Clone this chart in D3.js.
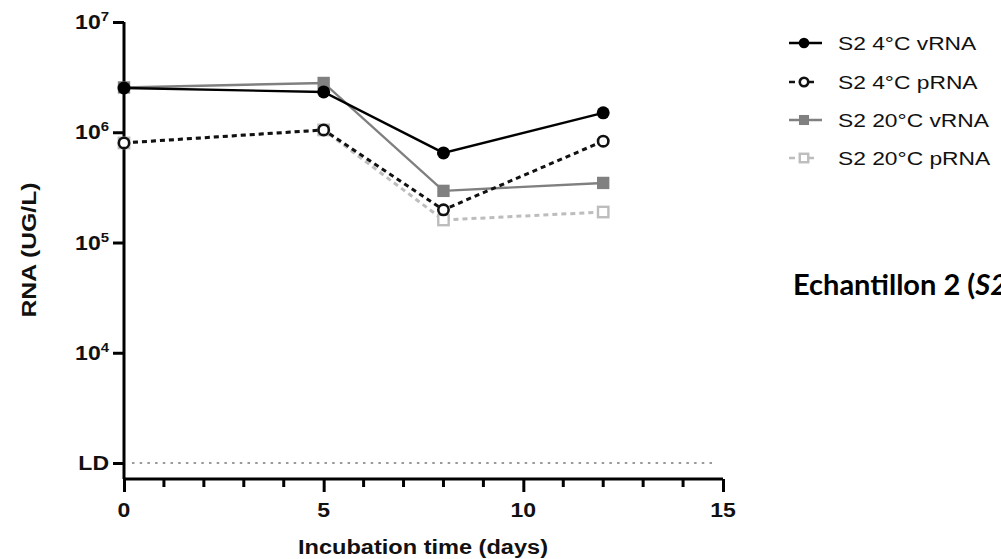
<!DOCTYPE html>
<html>
<head>
<meta charset="utf-8">
<script src="https://cdn.jsdelivr.net/npm/d3@7"></script>
<style>
  body { margin: 0; background: #fff; }
  svg { display: block; }
  text { font-family: "Liberation Sans", Arial, sans-serif; fill: #111; }
</style>
</head>
<body>
<svg id="chart" width="1001" height="559"></svg>
<script>
// Données
const days = [0, 5, 8, 12];
const s2_4C_vRNA = [2.52e6, 2.32e6, 6.5e5, 1.5e6];
const s2_4C_pRNA = [8.0e5, 1.05e6, 1.98e5, 8.3e5];
const s2_20C_vRNA = [2.55e6, 2.8e6, 2.94e5, 3.47e5];
const s2_20C_pRNA = [8.0e5, 1.05e6, 1.6e5, 1.89e5];
const seriesNames = ["S2 4°C vRNA", "S2 4°C pRNA", "S2 20°C vRNA", "S2 20°C pRNA"];
const yTickValues = [1e3, 1e4, 1e5, 1e6, 1e7];
const yTickLabels = ["LD", "4", "5", "6", "7"];
const xTickValues = [0, 5, 10, 15];
const ldValue = 1e3;

const svg = d3.select("#chart");

const x = d3.scaleLinear().domain([0, 15]).range([124, 723]);
const y = d3.scaleLog().domain([Math.pow(10, 2.855), 1e7]).range([479, 22]);

// styles des séries (ordre du dessin : du fond vers le haut)
const series = [
  { name: seriesNames[3], values: s2_20C_pRNA, color: "#bdbdbd", dash: "5,4", marker: "square", open: true },
  { name: seriesNames[2], values: s2_20C_vRNA, color: "#808080", dash: null, marker: "square", open: false },
  { name: seriesNames[1], values: s2_4C_pRNA, color: "#111", dash: "5,4", marker: "circle", open: true },
  { name: seriesNames[0], values: s2_4C_vRNA, color: "#000", dash: null, marker: "circle", open: false }
];

// ligne LD pointillée
svg.append("line")
  .attr("x1", x(0.2)).attr("x2", x(14.85))
  .attr("y1", y(ldValue)).attr("y2", y(ldValue))
  .attr("stroke", "#9a9a9a")
  .attr("stroke-width", 2)
  .attr("stroke-dasharray", "2.5,5.2");

// axe Y
const yAxis = svg.append("g")
  .attr("transform", `translate(${x(0)},0)`)
  .call(d3.axisLeft(y).tickValues(yTickValues).tickSize(11).tickFormat(""));
yAxis.select(".domain").attr("d", `M0,${y.range()[1]}V${y.range()[0]}`);
yAxis.selectAll("path, line").attr("stroke", "#000").attr("stroke-width", 3);

yTickValues.forEach((v, i) => {
  const t = svg.append("text")
    .attr("text-anchor", "end")
    .attr("font-weight", "bold")
    .attr("font-size", 20)
    .attr("transform", `translate(${x(0) - 15},${y(v) + 7}) scale(1.15,1)`);
  if (yTickLabels[i] === "LD") {
    t.text("LD");
  } else {
    t.append("tspan").text("10");
    t.append("tspan").attr("font-size", 13).attr("dy", -8).text(yTickLabels[i]);
  }
});

// axe X
const xAxis = svg.append("g")
  .attr("transform", `translate(0,${y.range()[0]})`)
  .call(d3.axisBottom(x).tickValues(xTickValues).tickSize(13).tickFormat(""));
xAxis.select(".domain").attr("d", `M${x(0)},0H${x(15)}`);
xAxis.selectAll("path, line").attr("stroke", "#000").attr("stroke-width", 3);

xAxis.selectAll(".minor")
  .data(d3.range(1, 15).filter(d => d % 5 !== 0))
  .join("line")
  .attr("x1", d => x(d)).attr("x2", d => x(d))
  .attr("y1", 0).attr("y2", 8)
  .attr("stroke", "#000").attr("stroke-width", 3);

svg.selectAll(".xlab")
  .data(xTickValues)
  .join("text")
  .attr("text-anchor", "middle")
  .attr("font-weight", "bold")
  .attr("font-size", 20)
  .attr("transform", d => `translate(${x(d)},${517}) scale(1.15,1)`)
  .text(d => d);

// titres des axes
svg.append("text")
  .attr("x", 423).attr("y", 554)
  .attr("text-anchor", "middle")
  .attr("font-weight", "bold")
  .attr("font-size", 20)
  .attr("textLength", 250)
  .attr("lengthAdjust", "spacingAndGlyphs")
  .text("Incubation time (days)");

svg.append("text")
  .attr("transform", "translate(36,250) rotate(-90)")
  .attr("text-anchor", "middle")
  .attr("font-weight", "bold")
  .attr("font-size", 20)
  .attr("textLength", 135)
  .attr("lengthAdjust", "spacingAndGlyphs")
  .text("RNA (UG/L)");

// séries
const line = d3.line().x((d, i) => x(days[i])).y(d => y(d));

function drawMarker(g, s, cx, cy, size) {
  if (s.marker === "circle") {
    g.append("circle")
      .attr("cx", cx).attr("cy", cy)
      .attr("r", s.open ? size * 0.8 : size)
      .attr("fill", s.open ? "#fff" : s.color)
      .attr("stroke", s.color)
      .attr("stroke-width", s.open ? 2.6 : 0);
  } else {
    const w = s.open ? size * 1.6 : size * 1.9;
    g.append("rect")
      .attr("x", cx - w / 2).attr("y", cy - w / 2)
      .attr("width", w).attr("height", w)
      .attr("fill", s.open ? "#fff" : s.color)
      .attr("stroke", s.color)
      .attr("stroke-width", s.open ? 2.4 : 0);
  }
}

series.forEach(s => {
  const g = svg.append("g");
  g.append("path")
    .attr("d", line(s.values))
    .attr("fill", "none")
    .attr("stroke", s.color)
    .attr("stroke-width", s.dash ? 3 : 2.4)
    .attr("stroke-dasharray", s.dash);
  s.values.forEach((v, i) => drawMarker(g, s, x(days[i]), y(v), 6.5));
});

// légende
const legendRows = [43, 82, 120, 158];
const legendOrder = series.slice().reverse();
legendOrder.forEach((s, i) => {
  const g = svg.append("g").attr("transform", `translate(0,${legendRows[i]})`);
  g.append("line")
    .attr("x1", 789).attr("x2", 822)
    .attr("y1", 0).attr("y2", 0)
    .attr("stroke", s.color)
    .attr("stroke-width", 2.6)
    .attr("stroke-dasharray", s.dash ? "6,9,10,9" : null);
  drawMarker(g, s, 804, 0, 5.3);
  g.append("text")
    .attr("transform", `translate(838,7) scale(1.2,1)`)
    .attr("font-size", 19)
    .text(s.name);
});

// titre de l'échantillon
const title = svg.append("text")
  .attr("x", 793).attr("y", 295)
  .attr("font-weight", "bold")
  .attr("font-size", 29)
  .style("font-family", "Lato, 'Open Sans', sans-serif")
  .style("fill", "#000");
title.append("tspan").text("Echantillon 2 (");
title.append("tspan").attr("font-style", "italic").text("S2");
title.append("tspan").text(")");
</script>
</body>
</html>
